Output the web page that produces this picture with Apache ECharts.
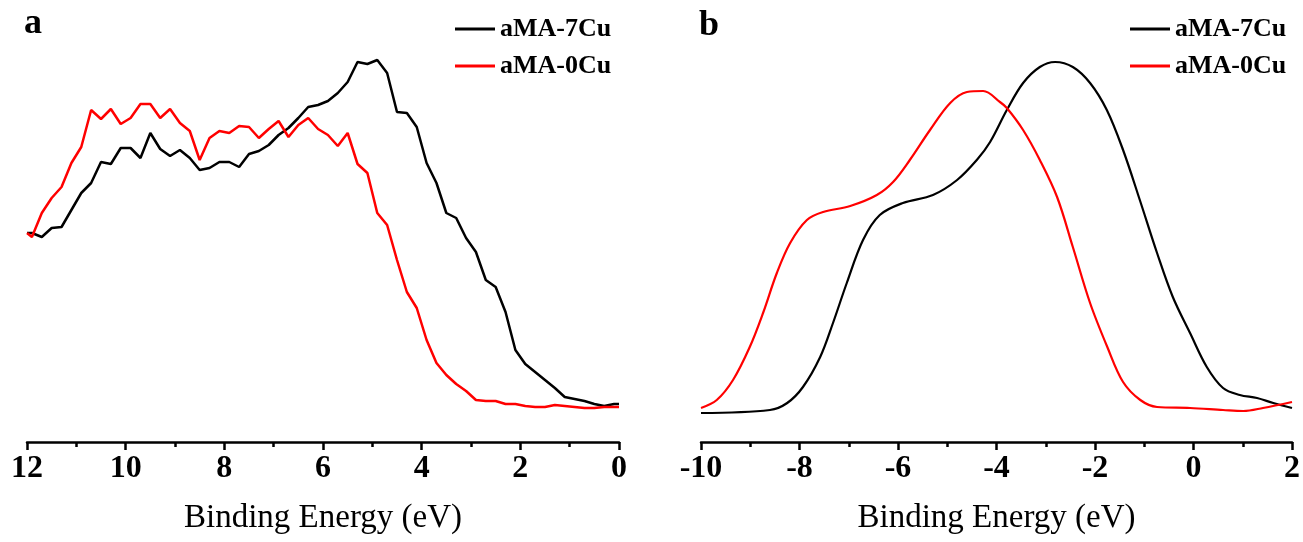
<!DOCTYPE html>
<html>
<head>
<meta charset="utf-8">
<script src="https://cdn.jsdelivr.net/npm/echarts@6/dist/echarts.min.js"></script>
<style>
html,body{margin:0;padding:0;background:#fff;}
#chart{width:1303px;height:542px;}
</style>
</head>
<body>
<div id="chart"></div>
<script>
// ---- Data (panel a) ----
const leftEnergy = [12.0, 11.9, 11.7, 11.5, 11.3, 11.1, 10.9, 10.7, 10.5, 10.3, 10.1, 9.9, 9.7, 9.5, 9.3, 9.1, 8.9, 8.7, 8.5, 8.3, 8.1, 7.9, 7.7, 7.5, 7.3, 7.1, 6.9, 6.7, 6.5, 6.3, 6.1, 5.9, 5.7, 5.5, 5.3, 5.1, 4.9, 4.7, 4.5, 4.3, 4.1, 3.9, 3.7, 3.5, 3.3, 3.1, 2.9, 2.7, 2.5, 2.3, 2.1, 1.9, 1.7, 1.5, 1.3, 1.1, 0.9, 0.7, 0.5, 0.3, 0.1, 0.0];
const left7Cu = [209,209,205,214,215,232,249,259,280,278,
                 294,294,284,309,293,286,292,284,272,274,
                 280,280,275,288,291,297,307,314,324,335,
                 337,341,349,360,380,378,382,369,330,329,
                 315,279,259,229,224,204,190,162,155,130,
                 92,78,70,62,54,45,43,41,38,36,
                 38,38];
const left0Cu = [209,205,229,244,255,279,295,332,323,333,
                 318,324,338,338,324,333,319,311,282,304,
                 311,309,316,315,304,313,321,305,317,324,
                 313,307,296,309,278,269,229,217,182,150,
                 134,102,79,67,58,51,42,41,41,38,
                 38,36,35,35,37,36,35,34,34,35,
                 35,35];

// ---- Data (panel b) ----
const right7CuEnergy = [-10.0, -8.60, -8.25, -7.93, -7.58, -7.32, -7.04, -6.71, -6.37, -5.90, -5.29, -4.80, -4.40, -4.13, -3.79, -3.46, -3.12, -2.81, -2.45, -2.10, -1.76, -1.43, -1.09, -0.74, -0.42, -0.07, 0.27, 0.60, 0.94, 1.29, 1.62, 2.0];
const right7Cu = [29, 32, 39, 55, 85, 119, 159, 202, 227, 239, 247, 262, 282, 300, 332, 359, 375, 380, 375, 359, 332, 292, 242, 189, 145, 109, 75, 54, 47, 44, 39, 34];
const right0CuEnergy = [-10.0, -9.68, -9.35, -9.01, -8.74, -8.46, -8.19, -7.85, -7.52, -6.97, -6.43, -6.10, -5.76, -5.35, -4.94, -4.60, -4.27, -3.93, -3.79, -3.46, -3.12, -2.77, -2.45, -2.10, -1.75, -1.43, -1.08, -0.74, -0.07, 0.60, 1.01, 1.41, 2.0];
const right0Cu = [34, 42, 62, 95, 129, 169, 199, 222, 230, 236, 247, 260, 282, 312, 339, 350, 351, 340, 334, 312, 282, 245, 195, 139, 95, 60, 42, 35, 34, 32, 31, 34, 40];

const seriesNames = ['aMA-7Cu', 'aMA-0Cu'];
const seriesColors = ['#000000', '#ff0000'];
const leftTicks = { min: 0, max: 12, interval: 2 };
const rightTicks = { min: -10, max: 2, interval: 2 };

const zip = (xs, ys) => xs.map((x, i) => [x, ys[i]]);

const FONT = '"Liberation Serif", "Times New Roman", serif';

function xAxisCfg(gridIndex, ticks, inverse) {
  return {
    type: 'value', gridIndex: gridIndex,
    min: ticks.min, max: ticks.max, interval: ticks.interval, inverse: inverse,
    name: 'Binding Energy (eV)', nameLocation: 'middle', nameGap: 60,
    nameTextStyle: { fontFamily: FONT, fontSize: 33, color: '#000' },
    axisLine: { show: true, onZero: false, lineStyle: { color: '#000', width: 2.5 } },
    axisTick: { show: true, inside: false, length: 8, lineStyle: { color: '#000', width: 2.5 } },
    minorTick: { show: true, splitNumber: 2, length: 5, lineStyle: { color: '#000', width: 2.5 } },
    axisLabel: { fontFamily: FONT, fontSize: 32, fontWeight: 'bold', color: '#000', margin: 11 },
    splitLine: { show: false }
  };
}
function yAxisCfg(gridIndex) {
  return { type: 'value', gridIndex: gridIndex, min: 0, max: 400, show: false };
}
function legendCfg(left) {
  return {
    data: seriesNames, orient: 'vertical', left: left, top: 11,
    icon: 'rect', itemWidth: 40, itemHeight: 3, itemGap: 11,
    textStyle: { fontFamily: FONT, fontSize: 26, fontWeight: 'bold', color: '#000', lineHeight: 26 }
  };
}

const chart = echarts.init(document.getElementById('chart'), null, { renderer: 'canvas' });
chart.setOption({
  backgroundColor: '#fff',
  animation: false,
  grid: [
    { left: 27, right: 684, top: 42, bottom: 100 },
    { left: 701, right: 11, top: 42, bottom: 100 }
  ],
  xAxis: [xAxisCfg(0, leftTicks, true), xAxisCfg(1, rightTicks, false)],
  yAxis: [yAxisCfg(0), yAxisCfg(1)],
  legend: [legendCfg(450), legendCfg(1125)],
  graphic: [
    { type: 'text', left: 24, top: 6, style: { text: 'a', font: 'bold 36px ' + FONT, fill: '#000' } },
    { type: 'text', left: 699, top: 8, style: { text: 'b', font: 'bold 36px ' + FONT, fill: '#000' } }
  ],
  series: [
    { name: seriesNames[0], type: 'line', xAxisIndex: 0, yAxisIndex: 0, data: zip(leftEnergy, left7Cu),
      showSymbol: false, symbol: 'none', color: seriesColors[0], lineStyle: { color: seriesColors[0], width: 2.5 } },
    { name: seriesNames[1], type: 'line', xAxisIndex: 0, yAxisIndex: 0, data: zip(leftEnergy, left0Cu),
      showSymbol: false, symbol: 'none', color: seriesColors[1], lineStyle: { color: seriesColors[1], width: 2.5 } },
    { name: seriesNames[0], type: 'line', xAxisIndex: 1, yAxisIndex: 1, data: zip(right7CuEnergy, right7Cu),
      smooth: 0.35, showSymbol: false, symbol: 'none', color: seriesColors[0], lineStyle: { color: seriesColors[0], width: 2.2 } },
    { name: seriesNames[1], type: 'line', xAxisIndex: 1, yAxisIndex: 1, data: zip(right0CuEnergy, right0Cu),
      smooth: 0.35, showSymbol: false, symbol: 'none', color: seriesColors[1], lineStyle: { color: seriesColors[1], width: 2.2 } }
  ]
});
</script>
</body>
</html>
